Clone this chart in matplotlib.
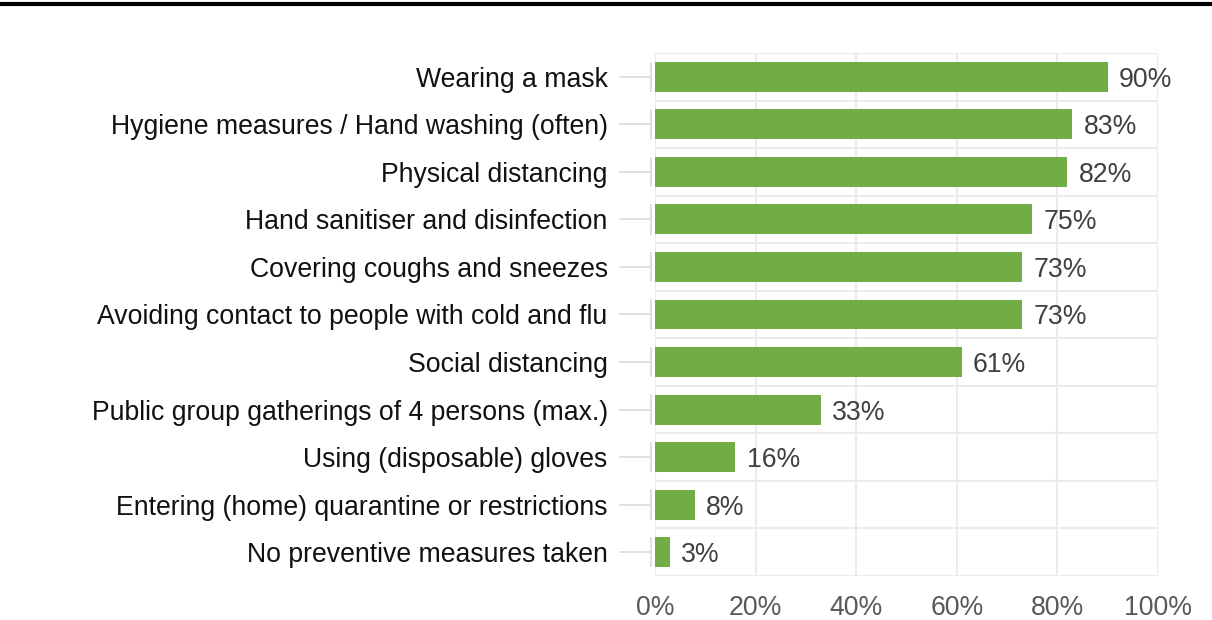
import matplotlib.pyplot as plt
from matplotlib.lines import Line2D

plt.rcParams['font.family'] = ['Liberation Sans', 'DejaVu Sans']

# Survey results: preventive measures taken
measures = [
    'Wearing a mask',
    'Hygiene measures / Hand washing (often)',
    'Physical distancing',
    'Hand sanitiser and disinfection',
    'Covering coughs and sneezes',
    'Avoiding contact to people with cold and flu',
    'Social distancing',
    'Public group gatherings of 4 persons (max.)',
    'Using (disposable) gloves',
    'Entering (home) quarantine or restrictions',
    'No preventive measures taken',
]
shares = [90, 83, 82, 75, 73, 73, 61, 33, 16, 8, 3]
x_ticks = [0, 20, 40, 60, 80, 100]
x_tick_labels = ['0%', '20%', '40%', '60%', '80%', '100%']

bar_color = '#70AD47'
grid_color = '#EBEBEB'
fs = 19.2

fig = plt.figure(figsize=(12.12, 6.2), dpi=100)
ax = fig.add_axes([0.5404, 0.071, 0.415, 0.8435])

ypos = list(range(len(measures)))
ax.barh(ypos, shares, height=0.63, color=bar_color, zorder=3)

for y, v in zip(ypos, shares):
    ax.annotate(f'{v}%', (v, y), xytext=(8, 0), textcoords='offset points',
                va='center_baseline', ha='left', fontsize=fs, color='#404040')

ax.set_xlim(0, 100)
ax.set_ylim(len(measures) - 0.5, -0.5)
ax.set_xticks(x_ticks)
ax.set_xticklabels(x_tick_labels)
ax.set_yticks(ypos)
ax.set_yticklabels(measures, va='center_baseline')

# grid: vertical at x ticks, horizontal at category boundaries
for x in x_ticks:
    ax.axvline(x, color=grid_color, lw=1.5, zorder=1)
for b in range(len(measures) + 1):
    ax.axhline(b - 0.5, color=grid_color, lw=1.5, zorder=1)

for s in ax.spines.values():
    s.set_visible(False)

ax.tick_params(axis='y', length=0, pad=34, labelsize=fs, labelcolor='#111111')
ax.tick_params(axis='x', length=0, pad=14, labelsize=fs, labelcolor='#595959')

# custom tick marks on the left
tr = ax.get_yaxis_transform()
for y in ypos:
    ax.add_line(Line2D([-0.069, -0.0099], [y, y], transform=tr, color='#D9D9D9',
                       lw=1.2, clip_on=False))
    ax.add_line(Line2D([-0.0079, -0.0079], [y - 0.3, y + 0.3], transform=tr,
                       color='#D9D9D9', lw=1.2, clip_on=False))

# black rule across the top
fig.add_artist(Line2D([0, 1], [0.9935, 0.9935], transform=fig.transFigure,
                      color='black', lw=3))

plt.savefig('out.png', dpi=100)
